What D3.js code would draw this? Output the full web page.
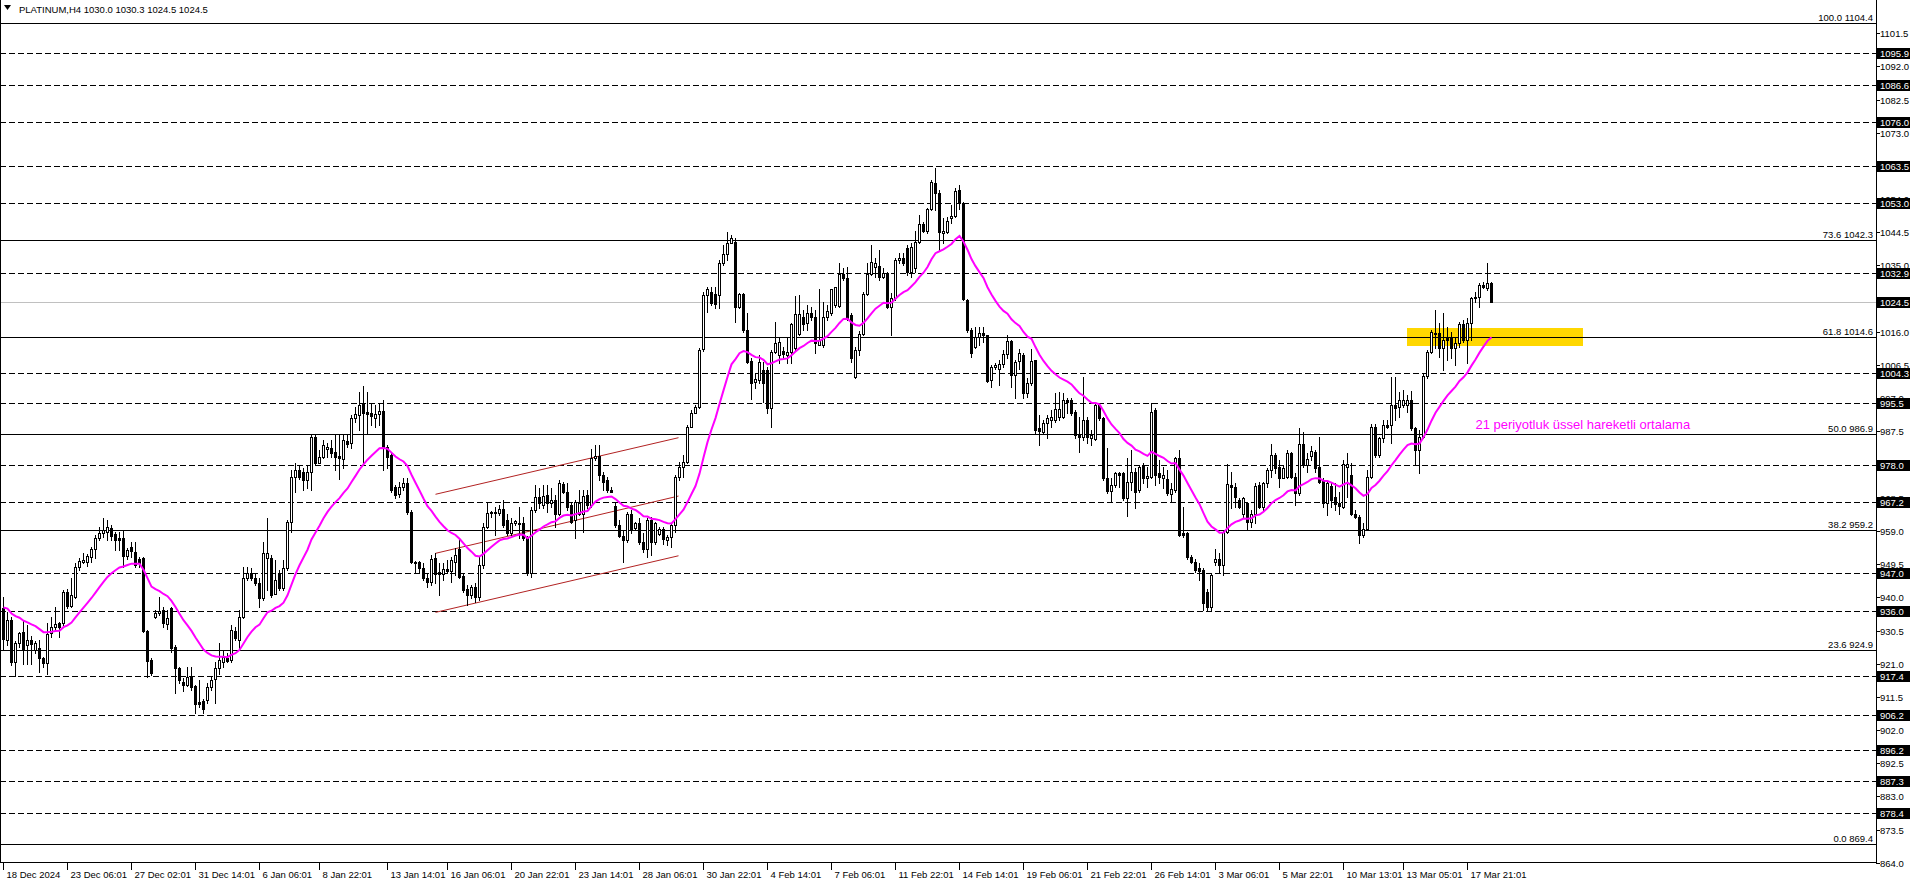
<!DOCTYPE html>
<html><head><meta charset="utf-8">
<script src="https://cdn.jsdelivr.net/npm/d3@7"></script>
<style>
html,body{margin:0;padding:0;background:#fff;}
svg{display:block;}
text{font-family:"Liberation Sans",Arial,sans-serif;}
</style></head><body>
<svg id="chart" width="1916" height="888"></svg>
<script>
// ---------------- DATA ----------------
const symbolTitle = "PLATINUM,H4";
const lastOHLC = ["1030.0","1030.3","1024.5","1024.5"];

const opens = [
937,927.8,933.5,921.6,926.8,930,926.3,927.8,924.9,925.4,
922.5,921.1,929.7,931.6,932.6,932.6,941.6,937.5,940.2,948.8,
950.2,950.2,951.6,953.7,957.1,958.5,958.8,959.8,958.1,956.9,
956.9,951.8,954.3,953,950.9,951.2,930.3,922,934.5,935.4,
936.4,932.5,936.9,925.9,919.7,915.8,914.9,917.3,914.6,910.1,
910.4,910.6,914.4,916.5,919.7,921.6,922.5,922,930.3,927.8,
934.5,945.4,946.9,945.4,944,939.7,951.2,951.2,941.1,946.9,
942.6,948.3,961.7,974.5,976.4,976,973.6,976,985.8,978.5,
980.1,982.6,982.7,981.7,980.5,979.5,984.8,984.1,991.2,992.2,
995.3,993,992.9,991.2,992.4,993.3,983.1,980.7,971.5,969.6,
971.5,972.8,964.5,950.2,950.2,948.3,945.6,944.5,951.2,947.3,
946.7,948,947.6,950,953.7,946.1,942.3,940.7,942.9,940.2,
949.4,960.2,964.1,964.1,964.1,965.2,962.1,958.3,961.2,961,
961.4,957.4,946.9,965,968.8,966.4,969.3,966.9,968,964,
972.4,970.2,966.4,962.1,964,964,969.3,966.4,979.8,980.5,
975,973.6,970.7,966.2,960.7,957.6,956.4,963.9,959.8,961.4,
955.9,953.7,962.1,955.9,958.1,959.5,956.4,957.2,960.7,974.5,
977.4,978.8,988.9,992.9,994.6,1011,1026.5,1027.5,1026.8,1026.5,
1035.6,1038.3,1041.5,1041.8,1023,1026.8,1016.5,1007.7,1001.7,1002.2,
1005.1,1005.1,994.1,1010.1,1009.4,1010.5,1009.4,1010.3,1011.3,1015.5,
1020.3,1018.4,1021.5,1020.2,1012.2,1012.2,1020.2,1021.5,1023.7,1023.4,
1032.5,1031.3,1020.8,1003,1010.8,1015.4,1026.8,1032.5,1034.6,1034.8,
1031.8,1032.7,1023.2,1025.8,1036.6,1037.1,1039.9,1033.2,1034.2,1041.8,
1046.9,1044.9,1051.1,1058.5,1055.6,1044.4,1044.7,1048.5,1049.2,1056.6,
1053,1025.1,1016.5,1011.8,1014.6,1015.8,1015.1,1002.2,1006,1005.5,
1006.8,1009.6,1013.4,1003.6,1007.7,1009.4,998.4,1001.3,1007.9,988.4,
987.4,990,990.9,990.8,991.7,991.7,996.5,996.5,993.1,986.5,
986,990.8,985.5,985.2,995,991.2,974.1,970.5,972.1,975.7,
975.5,968.3,973.1,975.9,970.7,977.9,974.1,974.5,993.6,975.5,
974.1,973.8,969.6,970.7,979.8,958.3,958.3,951.6,950.2,948.3,
947.8,941.5,937.2,950.2,951.1,949.2,958.8,972.2,971.7,968,
964,967.1,961.7,964,972.1,965.9,972.6,976.4,980.7,977.4,
974.3,974.5,981.2,974.5,969.8,983.9,977.9,980.5,981.7,977.4,
973.6,966.9,972,968.8,966.9,965.9,977.4,975,964,963.1,
957.8,959.7,974.5,988.8,980.7,985.5,989.3,989.3,995,994.6,
995,995,996.5,988.4,982.2,986,1003.3,1010.3,1015.7,1015.6,
1011.3,1014.1,1014.1,1011.3,1012.7,1018.2,1013.7,1018.4,1025.6,1025.9,
1029.4,1028.5,1030.0];

const highs = [
940,935.9,934.5,927.5,930.2,933.5,932,929,927.5,927.8,
923,932.6,934.5,937.3,933,942,942.5,945.4,949.7,951.2,
952.6,952.5,954.5,957.8,960.2,962.6,962.1,960.7,958.8,958.8,
959.3,954,955.9,955.9,951.6,951.5,930.6,922.5,936.5,940.2,
937.3,936.4,937.3,926.5,920,917,920.1,920.1,915,916.3,
911,915.4,917.3,921.6,926.8,924.9,924,932,931.6,936.4,
948.8,948.6,948.4,946.9,945.4,955.9,962.6,952.1,950.7,947.8,
950.7,962.1,976.4,978.5,977.9,976.9,977.9,986.9,986.5,982.2,
985,984.1,985,986.5,986.5,986.5,986.5,992.2,994.6,998.9,
1000.5,998.9,995.5,995,995.5,996.5,983.5,981.2,972.2,973.1,
974.1,974.1,965,950.5,950.5,949.7,946.9,952.1,952.6,949.7,
949.7,950.7,951.6,954,956.4,946.9,943.5,943.5,944,951.6,
961.2,967.4,964.6,966,966.4,967.9,964,962.6,962.1,966,
963.1,957.5,966,972.2,971.2,972.2,972.2,971.2,969.3,973.5,
973.1,972.8,967.4,967.9,970.7,970.7,970.7,982.6,983.6,983.6,
976,974.5,971.7,966.9,962.1,959.3,964.5,965,961.7,962.6,
958.3,962.6,963,961.7,960.2,960.2,957.8,961.2,975,978.8,
980.7,989.3,993.6,995,1011.3,1027.5,1028.9,1028.9,1028.9,1036.5,
1040.8,1044.7,1043.7,1042.8,1027,1027,1021.5,1008.4,1004.1,1009.4,
1007.5,1006,1010.8,1018.9,1014.1,1011.8,1014.1,1018.4,1026.3,1026.5,
1022.2,1023.7,1023.2,1022.2,1028.4,1024.6,1023.7,1028.2,1028.9,1035.6,
1034.2,1034.7,1021.3,1011.8,1016.1,1027.5,1035.6,1040.8,1037,1039.4,
1034.2,1033.2,1027,1037,1038.5,1038.5,1040.8,1041.3,1045,1049.4,
1047.5,1051.4,1059.5,1062.8,1056.6,1048.5,1049,1052.3,1057.1,1058,
1053.3,1025.3,1017,1017.5,1017.5,1017.5,1015.2,1006.5,1007,1007.9,
1010.8,1015.1,1013.7,1007.9,1011,1009.8,1002.7,1011,1007.9,992.2,
990.8,992.2,993.6,998.4,998.9,998.4,997,997,993.6,991.7,
1003.2,991.7,988,995.5,995.5,991.7,982.7,974.1,976,976,
976,979.8,982.2,976.9,977.9,978.4,977.4,995.5,994.1,979.3,
977.4,976.4,972.6,980.3,982.2,965.9,958.8,952.1,951.1,949.7,
948.5,942.5,947,953.9,952.6,959.3,978.3,976,972.6,968.3,
968.8,967.4,965,972.6,973.1,973.1,977,984,981.2,979.3,
977.9,982.2,981.7,975.5,988.4,987.4,981.2,983.3,982.2,986,
974.1,973.5,972.6,972.6,970.2,979.3,981.2,978.5,965,963.6,
961.2,976.4,989.6,989.6,986,990.8,990.8,1003.2,1003.2,998.9,
999.3,997.9,999.2,988.9,988,1004.1,1010.8,1016.5,1022.2,1018.4,
1021.3,1017.5,1016,1014.6,1018.9,1019.4,1019.9,1026.1,1027.5,1030.1,
1030.4,1035.8,1030.3];

const lows = [
925,926.3,920.6,917.5,925.9,920.8,920.8,920.8,924,918.5,
920.1,918,928.7,930.6,928.7,932,937,937.3,939.7,947.8,
949.7,949,950,951.2,956.4,957.4,956.4,956.4,953.5,953.5,
948.8,951,951.6,948.8,948.8,930,917.1,917.8,934,935,
931.6,931,924.4,912.7,915.4,913.2,914.5,913.5,906.8,908.5,
906.8,909.7,913.5,909.7,918.2,920.1,921.6,921.6,927.8,924.9,
934,945,945,943.5,937.3,939.2,942.1,940.2,941,942.1,
942.1,947.8,958.8,970.2,974,970.7,971.2,970.7,977.9,978.4,
979.8,980.3,980.3,976.4,974,976.9,983.1,982.7,990.3,987.9,
978.4,987,989.3,988.9,989.3,976.4,976.9,970.2,968.3,968.8,
970.7,964,949.7,947.1,947.3,945,943.1,943.5,944,940.7,
945,946.9,944.5,946.4,945.4,941.6,937.8,939.7,938.8,939.2,
948.3,959.8,963.1,957.8,963.6,960.2,957.8,957.8,960.7,956.9,
956.4,946.4,945.9,964.5,965.5,965.5,964.5,966,960.2,963.6,
969.8,965,961.2,956.9,963.6,958.8,965.5,966,979.3,973.6,
970.7,970.2,970.2,960.2,957.4,950.2,955.9,958.3,959.3,955.4,
953,951.6,952.1,955.4,957.9,955.4,955,954.5,958.8,973.6,
974.5,978.4,988.7,992.7,994.1,1010.5,1021.8,1023.7,1022.7,1022.7,
1035.1,1036.6,1041.3,1018.9,1022.7,1016,1007,996.7,999.8,1001.3,
996,992.7,988.8,1009.8,1007,1008.4,1007,1007,1010.8,1015,
1016.5,1016.5,1019.4,1009.8,1012.2,1011.8,1019.4,1020.8,1023.2,1023.2,
1030.8,1019.4,1007.5,1002.7,1009.4,1015.1,1026.5,1032.2,1031.8,1030.8,
1031.3,1022.7,1015.1,1025.1,1035.6,1035.1,1032.3,1031.8,1033,1041.3,
1044.7,1044.4,1050.9,1050.9,1039.4,1041.3,1044.2,1047.1,1049,1051.3,
1025.1,1016,1008.9,1011.3,1012.2,1013.2,1001.7,1000.3,1005.5,1000.8,
1006,1008.4,1000.3,997,1005.5,997,997.4,1000.8,986.9,983.6,
986.9,985.5,988.9,990.3,990.8,991.2,992.7,992.2,985.5,981.7,
985,984.1,983.6,985,990.8,973.6,970,967.4,971.7,971.7,
967.9,963.3,970.7,965.5,970.2,972.6,971.7,974.1,972.1,972.6,
971.2,969.3,967.6,970.2,957.5,957.4,951.1,949.7,947.3,945,
936.3,936.3,936.5,949.2,946.9,946.4,958.5,965.5,966,965.5,
962.6,959.7,960.2,961.2,965.5,965,971.7,974.5,975.5,971.7,
974.1,974.1,974.1,966.4,969.3,977.4,976,979.3,976,972.6,
966,963.6,966,965,964,965.5,968.8,963.6,962.6,955.5,
957.4,959.3,974.1,980.3,980.3,984.6,988.4,984.1,990.8,991.7,
994.6,993.1,987.9,978.3,975.5,985.5,1002.7,1009.8,1011.3,1008.9,
1005.1,1007.9,1008.4,1006.5,1011.8,1013.2,1007,1013.7,1024.6,1023,
1028.5,1028,1024.5];

const closes = [
928,933.5,921.6,926.8,929.7,924.9,927.8,926.6,926.8,922.5,
921.3,929.4,931.6,932.4,931.5,941.6,937.5,940.7,948.8,950.4,
950.7,951.8,953.8,956.9,958.3,959.3,960.2,957.6,956.4,956.4,
951.8,953.5,953.4,949.3,949.9,930.3,921.9,918.4,935.4,936,
932.8,934,925.4,919.7,916.3,914.9,917.3,914.4,909.6,909.6,
907.9,914.4,916.3,919.7,922.1,923,921.9,930.6,928.3,934.4,
945.4,947.1,945.4,944,939.7,952.6,952.6,940.7,945,942.6,
948.3,961.7,974.5,976.4,974.5,973.6,976,985.8,978.4,980.3,
983.6,982.9,981.2,980.1,979.8,985,983.8,991.2,992.5,995,
992.9,992.6,991.9,992.4,993.3,983.1,980.3,970.7,969.3,971.5,
972.6,964.5,950.2,949.7,948.3,945.4,944.5,950.9,946.7,946.7,
948,947.6,950.7,952.1,945.9,942.1,940.7,942.9,940.2,949.4,
960.2,964.1,964.5,964.5,965.2,960.7,958.3,961.2,961.8,961.4,
956.9,946.9,965,968.8,966.9,969.1,966.9,967.9,964,972.6,
970.2,965.9,961.7,967.4,967.1,969,966.4,979.8,980.5,975,
973.1,970.7,970.2,960.7,957.6,956.4,963.9,959.3,961.4,955.9,
953.7,962.1,955.9,961.2,959.5,956.6,957.2,960.7,974.5,977.4,
978.8,988.9,992.9,994.6,1010.8,1026.5,1028.2,1024.2,1024,1035.6,
1038.3,1041.3,1043,1023,1026.8,1016.5,1007.5,1001.3,1002.4,1007.5,
1001.3,994.1,1010.1,1012.7,1013.2,1009.7,1010.3,1018.2,1021.1,1021.1,
1018.2,1021.3,1020.2,1012.7,1013.7,1020.2,1021.9,1028.2,1028.7,1032.5,
1031.3,1019.9,1008.4,1010.8,1015.4,1026.8,1032.5,1036.1,1035.8,1031.8,
1032.9,1023.2,1025.8,1036.7,1037.1,1035.8,1033.2,1040.4,1041.8,1046.9,
1044.9,1051.1,1059,1055.6,1044.7,1044.9,1047.8,1049.2,1056.4,1052.8,
1025.3,1016.5,1010,1014.6,1015.8,1015.1,1002,1006,1006.5,1006.8,
1009.6,1013.5,1003.6,1007.4,1009.8,998.6,1001.3,1007.7,987.9,987.7,
989.8,991.2,991.5,993.8,993.8,996.5,996,992.9,986.5,986,
990.8,985.8,986.5,995,991.2,974.1,970.3,972.1,975.5,975,
968.3,973.1,975.9,970.2,977.2,974.1,974.7,993.1,975,974.5,
975,969.8,970.9,979.8,957.8,957.8,951.6,950.2,947.8,947.5,
938.5,937.2,946.4,951.1,949.2,958.8,972.4,971.7,968.8,965.9,
968.3,961.7,964,971.9,965.9,972.6,976.4,980.7,976.9,974.3,
976.9,981.4,974.5,969.8,983.9,977.9,979.5,982,976.9,973.1,
966.9,972.6,967.9,966.7,966.2,978.3,978.3,964,963.1,957.8,
959.7,974.5,988.8,980.7,985.5,989.3,988.8,995,994.1,996.5,
996.5,996.5,988.4,982.2,986,1003.3,1010.3,1016,1015.4,1011.3,
1013.7,1013.7,1011.3,1012.7,1018.2,1013.7,1018.4,1025.6,1025.9,1029.4,
1028.9,1030.1,1024.5];

const timeLabels = ["18 Dec 2024","23 Dec 06:01","27 Dec 02:01","31 Dec 14:01","6 Jan 06:01","8 Jan 22:01",
"13 Jan 14:01","16 Jan 06:01","20 Jan 22:01","23 Jan 14:01","28 Jan 06:01","30 Jan 22:01","4 Feb 14:01",
"7 Feb 06:01","11 Feb 22:01","14 Feb 14:01","19 Feb 06:01","21 Feb 22:01","26 Feb 14:01","3 Mar 06:01",
"5 Mar 22:01","10 Mar 13:01","13 Mar 05:01","17 Mar 21:01"];
const timeLabelBars = [0,16,32,48,64,79,96,111,127,143,159,175,191,207,223,239,255,271,287,303,319,335,350,366];

const yTickValues = [864.0,873.5,883.0,892.5,902.0,911.5,921.0,930.5,940.0,949.5,959.0,968.5,978.0,987.5,
997.0,1006.5,1016.0,1025.5,1035.0,1044.5,1054.0,1063.5,1073.0,1082.5,1092.0,1101.5];

const fibPercents = ["100.0","73.6","61.8","50.0","38.2","23.6","0.0"];
const fibPrices = [1104.4,1042.3,1014.6,986.9,959.2,924.9,869.4];
const levelPrices = [1095.9,1086.6,1076.0,1063.5,1053.0,1032.9,1004.3,995.5,978.0,967.2,947.0,936.0,917.4,906.2,896.2,887.3,878.4];
const bidPrice = 1024.5;

const emaPeriod = 21;
const emaSeed = 938.0;

const channelBars = [108, 168.75];
const channelUpper = [969.5, 985.7];
const channelMiddle = [952.6, 969.0];
const channelLower = [935.7, 951.9];

const zoneBars = [350.85, 394.8];
const zonePrices = [1012.0, 1017.2];

const noteText = "21 periyotluk üssel hareketli ortalama";
const noteBar = 368;
const notePrice = 989.6;

// ---------------- LAYOUT ----------------
const W = 1916, H = 888;
const plotRight = 1876, plotBottom = 862;
const axisFont = 9.5;
const svg = d3.select("#chart");
const N = closes.length;

const x = d3.scaleLinear().domain([0, 1]).range([3.5, 7.5]);
const y = d3.scaleLinear().domain([869.4, 1104.4]).range([844, 23]);
const py = p => Math.round(y(p)) + 0.5;

svg.append("rect").attr("width", W).attr("height", H).attr("fill", "#fff");
svg.append("defs").append("clipPath").attr("id", "plotclip")
  .append("rect").attr("x", 1).attr("y", 1).attr("width", plotRight - 1).attr("height", plotBottom - 1);
const plot = svg.append("g").attr("clip-path", "url(#plotclip)");

// zone rectangle
plot.append("rect")
  .attr("x", Math.round(x(zoneBars[0])))
  .attr("y", Math.round(y(zonePrices[1])))
  .attr("width", Math.round(x(zoneBars[1])) - Math.round(x(zoneBars[0])))
  .attr("height", Math.round(y(zonePrices[0])) - Math.round(y(zonePrices[1])))
  .attr("fill", "#FFD700");

// dashed levels
plot.selectAll("line.lvl").data(levelPrices).enter().append("line")
  .attr("x1", 0).attr("x2", plotRight)
  .attr("y1", d => py(d)).attr("y2", d => py(d))
  .attr("stroke", "#000").attr("stroke-width", 1).attr("stroke-dasharray", "6,3");

// bid line
plot.append("line").attr("x1", 0).attr("x2", plotRight)
  .attr("y1", py(bidPrice)).attr("y2", py(bidPrice))
  .attr("stroke", "#C0C0C0").attr("stroke-width", 1);

// fib lines
plot.selectAll("line.fib").data(fibPrices).enter().append("line")
  .attr("x1", 0).attr("x2", plotRight)
  .attr("y1", d => py(d)).attr("y2", d => py(d))
  .attr("stroke", "#000").attr("stroke-width", 1);

// channel
[channelUpper, channelMiddle, channelLower].forEach(c => {
  plot.append("line")
    .attr("x1", x(channelBars[0])).attr("y1", y(c[0]))
    .attr("x2", x(channelBars[1])).attr("y2", y(c[1]))
    .attr("stroke", "#B22222").attr("stroke-width", 1);
});

// candles
const cg = plot.append("g");
d3.range(N).forEach(i => {
  const o = opens[i], h = highs[i], l = lows[i], c = closes[i];
  const cx = x(i);
  const top = Math.round(y(Math.max(h, o, c)));
  const bot = Math.round(y(Math.min(l, o, c)));
  cg.append("line").attr("x1", cx).attr("x2", cx).attr("y1", top).attr("y2", bot + 1)
    .attr("stroke", "#000").attr("stroke-width", 1);
  const bt = Math.round(y(Math.max(o, c)));
  const bb = Math.round(y(Math.min(o, c)));
  if (bb - bt < 1) {
    cg.append("line").attr("x1", cx - 1.5).attr("x2", cx + 1.5).attr("y1", bt + 0.5).attr("y2", bt + 0.5)
      .attr("stroke", "#000").attr("stroke-width", 1);
  } else {
    cg.append("rect").attr("x", cx - 1).attr("y", bt + 0.5).attr("width", 2).attr("height", bb - bt)
      .attr("fill", c > o ? "#fff" : "#000").attr("stroke", "#000").attr("stroke-width", 1);
  }
});

// EMA
const alpha = 2 / (emaPeriod + 1);
const ema = [];
let prev = emaSeed;
closes.forEach(c => { prev = prev + alpha * (c - prev); ema.push(prev); });
plot.append("path")
  .attr("d", d3.line().x((d, i) => x(i)).y(d => y(d))(ema))
  .attr("fill", "none").attr("stroke", "#FF00FF").attr("stroke-width", 2);

// fib labels
fibPrices.forEach((p, k) => {
  svg.append("text").attr("x", 1873).attr("y", py(p) - 2.5)
    .attr("text-anchor", "end").attr("font-size", axisFont).attr("fill", "#000")
    .text(fibPercents[k] + " " + p.toFixed(1));
});

// annotation
svg.append("text").attr("x", x(noteBar)).attr("y", y(notePrice) + 5)
  .attr("font-size", 13).attr("fill", "#FF00FF").text(noteText);

// frame
svg.append("line").attr("x1", 0.5).attr("x2", 0.5).attr("y1", 0).attr("y2", plotBottom + 1).attr("stroke", "#000");
svg.append("line").attr("x1", plotRight + 0.5).attr("x2", plotRight + 0.5).attr("y1", 0).attr("y2", plotBottom + 1).attr("stroke", "#000");
svg.append("line").attr("x1", 0).attr("x2", plotRight + 1).attr("y1", plotBottom + 0.5).attr("y2", plotBottom + 0.5).attr("stroke", "#000");

// y axis ticks
yTickValues.forEach(v => {
  const yy = py(v);
  svg.append("line").attr("x1", plotRight).attr("x2", plotRight + 4).attr("y1", yy).attr("y2", yy).attr("stroke", "#000");
  svg.append("text").attr("x", plotRight + 4).attr("y", yy + 3.5)
    .attr("font-size", axisFont).attr("fill", "#000").text(v.toFixed(1));
});

// boxed labels
levelPrices.concat([bidPrice]).forEach(v => {
  const yy = Math.round(y(v));
  svg.append("rect").attr("x", plotRight + 1).attr("y", yy - 5).attr("width", 33).attr("height", 11).attr("fill", "#000");
  svg.append("text").attr("x", plotRight + 4).attr("y", yy + 4)
    .attr("font-size", axisFont).attr("fill", "#fff").text(v.toFixed(1));
});

// x axis
timeLabels.forEach((t, k) => {
  const xx = Math.round(x(timeLabelBars[k])) - 0.5;
  svg.append("line").attr("x1", xx).attr("x2", xx).attr("y1", plotBottom).attr("y2", plotBottom + 8).attr("stroke", "#000");
  svg.append("text").attr("x", xx + 3).attr("y", plotBottom + 16)
    .attr("font-size", axisFont).attr("fill", "#000").text(t);
});

// title
svg.append("path").attr("d", "M4,5 L11,5 L7.5,10 Z").attr("fill", "#000");
svg.append("text").attr("x", 19).attr("y", 13).attr("font-size", 9.5).attr("fill", "#000")
  .text(symbolTitle + "  " + lastOHLC.join(" "));
</script>
</body></html>
